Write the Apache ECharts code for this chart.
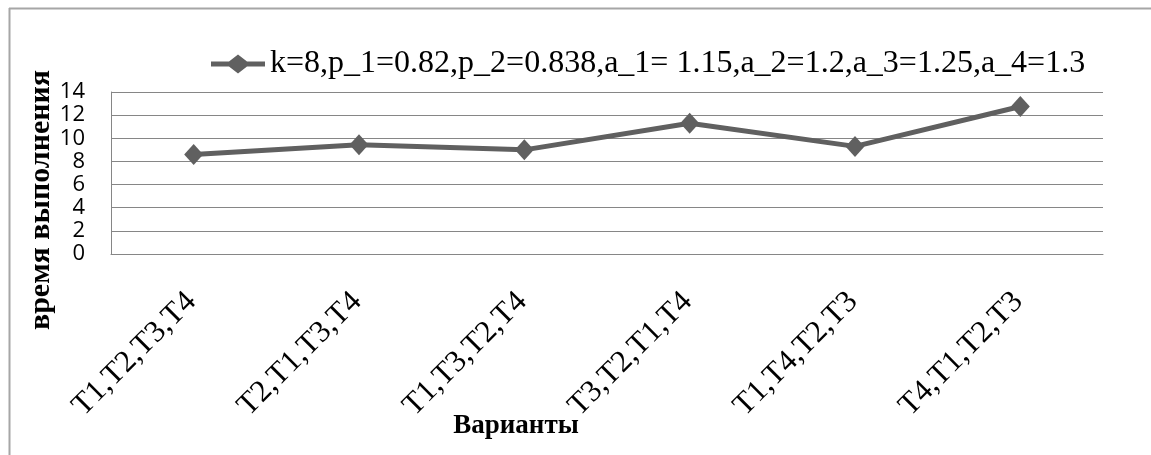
<!DOCTYPE html>
<html>
<head>
<meta charset="utf-8">
<script src="https://cdn.jsdelivr.net/npm/echarts@6/dist/echarts.min.js"></script>
<style>
html,body{margin:0;padding:0;background:#fff;}
#chart{width:1151px;height:455px;}
</style>
</head>
<body>
<div id="chart"></div>
<script>
const categories = ["T1,T2,T3,T4", "T2,T1,T3,T4", "T1,T3,T2,T4", "T3,T2,T1,T4", "T1,T4,T2,T3", "T4,T1,T2,T3"];
const seriesName = "k=8,p_1=0.82,p_2=0.838,a_1= 1.15,a_2=1.2,a_3=1.25,a_4=1.3";
const values = [8.6, 9.45, 9.0, 11.3, 9.3, 12.75];
const yTicks = { min: 0, max: 14, interval: 2 };
const yName = "время выполнения";
const xName = "Варианты";

const chart = echarts.init(document.getElementById('chart'), null, { renderer: 'canvas' });
const lineColor = '#606060';
chart.setOption({
  animation: false,
  backgroundColor: '#ffffff',
  grid: { left: 111, right: 48, top: 92, bottom: 201, containLabel: false },
  legend: {
    left: 211, top: 48, padding: 0,
    itemWidth: 54, itemHeight: 19, itemGap: 8,
    textStyle: { fontFamily: 'Liberation Serif', fontSize: 32, color: '#000' },
    data: [{ name: seriesName, icon: 'path://M0,7 L18,7 L27,0 L36,7 L54,7 L54,12 L36,12 L27,19 L18,12 L0,12 Z' }]
  },
  xAxis: {
    type: 'category',
    data: categories,
    boundaryGap: true,
    axisLine: { show: true, lineStyle: { color: '#868686', width: 1 } },
    axisTick: { show: false },
    axisLabel: {
      rotate: 45, margin: 41, padding: [0, 3, 0, 0],
      fontFamily: 'Liberation Serif', fontSize: 31, color: '#000', interval: 0
    },
    splitLine: { show: false }
  },
  yAxis: {
    type: 'value',
    min: yTicks.min, max: yTicks.max, interval: yTicks.interval,
    axisLine: { show: true, lineStyle: { color: '#868686', width: 1 } },
    axisTick: { show: false },
    axisLabel: { margin: 26, fontFamily: 'Open Sans', fontSize: 22, color: '#000' },
    splitLine: { show: true, lineStyle: { color: '#868686', width: 1 } }
  },
  series: [{
    name: seriesName,
    type: 'line',
    data: values,
    symbol: 'diamond',
    symbolSize: [19, 21],
    itemStyle: { color: lineColor },
    lineStyle: { color: lineColor, width: 5 }
  }],
  graphic: [
    { type: 'line', shape: { x1: 9, y1: 8.5, x2: 1151, y2: 8.5 }, style: { stroke: '#a6a6a6', lineWidth: 2 } },
    { type: 'line', shape: { x1: 9.5, y1: 8, x2: 9.5, y2: 455 }, style: { stroke: '#a6a6a6', lineWidth: 2 } },
    { type: 'text', x: 41, y: 200, rotation: Math.PI / 2,
      style: { text: yName, font: 'bold 30px "Liberation Serif"', fill: '#000', textAlign: 'center', textVerticalAlign: 'middle' } },
    { type: 'text', x: 516, y: 426,
      style: { text: xName, font: 'bold 27px "Liberation Serif"', fill: '#000', textAlign: 'center', textVerticalAlign: 'middle' } }
  ]
});
</script>
</body>
</html>
